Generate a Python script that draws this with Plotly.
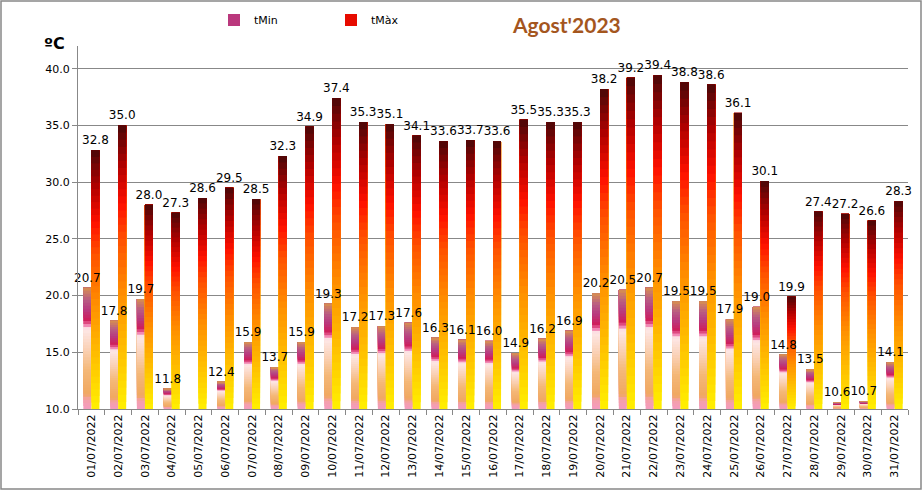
import plotly.graph_objects as go

dates = ["01/07/2022", "02/07/2022", "03/07/2022", "04/07/2022", "05/07/2022",
         "06/07/2022", "07/07/2022", "08/07/2022", "09/07/2022", "10/07/2022",
         "11/07/2022", "12/07/2022", "13/07/2022", "14/07/2022", "15/07/2022",
         "16/07/2022", "17/07/2022", "18/07/2022", "19/07/2022", "20/07/2022",
         "21/07/2022", "22/07/2022", "23/07/2022", "24/07/2022", "25/07/2022",
         "26/07/2022", "27/07/2022", "28/07/2022", "29/07/2022", "30/07/2022",
         "31/07/2022"]
t_min = [20.7, 17.8, 19.7, 11.8, None, 12.4, 15.9, 13.7, 15.9, 19.3,
         17.2, 17.3, 17.6, 16.3, 16.1, 16.0, 14.9, 16.2, 16.9, 20.2,
         20.5, 20.7, 19.5, 19.5, 17.9, 19.0, 14.8, 13.5, 10.6, 10.7, 14.1]
t_max = [32.8, 35.0, 28.0, 27.3, 28.6, 29.5, 28.5, 32.3, 34.9, 37.4,
         35.3, 35.1, 34.1, 33.6, 33.7, 33.6, 35.5, 35.3, 35.3, 38.2,
         39.2, 39.4, 38.8, 38.6, 36.1, 30.1, 19.9, 27.4, 27.2, 26.6, 28.3]
y_ticks = [10, 15, 20, 25, 30, 35, 40]

BASE = 10.0
N = 40
W, H = 923, 491
ML, MR, MT, MB = 78, 15, 46, 82

MIN_STOPS = [(0.00, "#f49ac0"), (0.08, "#f4a0a8"), (0.12, "#f0a860"),
             (0.32, "#f4b878"), (0.50, "#fad2b8"), (0.66, "#fde8e8"),
             (0.69, "#f080b0"), (0.73, "#d01e5a"), (0.82, "#b83a80"),
             (0.90, "#b85c84"), (1.00, "#d89050")]
MAX_STOPS = [(0.00, "#fff000"), (0.20, "#ffc000"), (0.40, "#ff9000"),
             (0.60, "#ff5000"), (0.72, "#ff1000"), (0.86, "#b00000"),
             (1.00, "#4a0808")]


def hex2rgb(h):
    h = h.lstrip("#")
    return [int(h[i:i + 2], 16) for i in (0, 2, 4)]


def interp(stops, t):
    for (t0, c0), (t1, c1) in zip(stops[:-1], stops[1:]):
        if t0 <= t <= t1:
            f = 0 if t1 == t0 else (t - t0) / (t1 - t0)
            a, b = hex2rgb(c0), hex2rgb(c1)
            r = [round(a[i] + (b[i] - a[i]) * f) for i in range(3)]
            return "rgb(%d,%d,%d)" % tuple(r)
    return stops[-1][1]


fig = go.Figure()

series = [("tMin", t_min, MIN_STOPS, "min", int(N * 0.8)),
          ("tMàx", t_max, MAX_STOPS, "max", int(N * 0.75))]

# Gradient: each layer starts higher and reaches the bar top, painted over the previous one
for name, vals, stops, grp, legk in series:
    for k in range(N):
        heights = [None if v is None else (v - BASE) * (N - k) / N for v in vals]
        bases = [None if v is None else BASE + k * (v - BASE) / N for v in vals]
        fig.add_trace(go.Bar(
            x=dates, y=heights, base=bases, offsetgroup=grp,
            marker=dict(color=interp(stops, (k + 0.5) / N), line=dict(width=0)),
            name=name, legendgroup=name, showlegend=(k == legk),
            hoverinfo="skip"))

for name, vals, stops, grp, legk in series:
    fig.add_trace(go.Bar(
        x=dates, y=[None if v is None else v - BASE for v in vals], base=BASE,
        offsetgroup=grp, marker=dict(color="rgba(0,0,0,0)", line=dict(width=0)),
        text=["" if v is None else "%.1f" % v for v in vals],
        textposition="outside", constraintext="none", cliponaxis=False,
        textfont=dict(family="DejaVu Sans", size=12, color="black"),
        showlegend=False, hoverinfo="skip"))

pw = W - ML - MR
ph = H - MT - MB


def px2x(px):
    return (px - ML) / pw


def py2y(py):
    return (H - MB - py) / ph


fig.update_layout(
    width=W, height=H,
    margin=dict(l=ML, r=MR, t=MT, b=MB, autoexpand=False),
    paper_bgcolor="white", plot_bgcolor="white",
    barmode="group", bargap=0.40, bargroupgap=0,
    font=dict(family="DejaVu Sans", size=11, color="black"),
    legend=dict(orientation="h", x=px2x(214), y=py2y(20), xanchor="left",
                yanchor="middle", font=dict(size=11), entrywidth=72,
                itemwidth=30, bgcolor="rgba(0,0,0,0)", traceorder="normal"),
    xaxis=dict(type="category", tickangle=-90, showline=True,
               linecolor="#888888", ticks="outside", tickson="boundaries",
               ticklen=5, tickcolor="#888888", showgrid=False,
               tickfont=dict(size=11), automargin=False),
    yaxis=dict(range=[BASE, 42], tickvals=y_ticks, tickformat=".1f",
               showgrid=True, gridcolor="#888888", gridwidth=1,
               showline=True, linecolor="#888888", ticks="outside",
               ticklen=5, tickcolor="#888888", zeroline=False,
               tickfont=dict(size=11), automargin=False),
    annotations=[
        dict(text="<b>Agost'2023</b>", xref="paper", yref="paper",
             x=px2x(566), y=py2y(24), xanchor="center", yanchor="middle",
             showarrow=False,
             font=dict(family="Lato", size=21, color="#a4561e")),
        dict(text="<b>ºC</b>", xref="paper", yref="paper",
             x=px2x(54), y=py2y(43), xanchor="center", yanchor="middle",
             showarrow=False,
             font=dict(family="DejaVu Sans", size=16, color="black")),
    ],
    shapes=[dict(type="rect", xref="paper", yref="paper",
                 x0=px2x(1), x1=px2x(921), y0=py2y(489), y1=py2y(1),
                 line=dict(color="#888888", width=1.5))],
)

fig.write_html("out.html", config={"displayModeBar": False},
               post_script="document.body.style.margin='0';")
